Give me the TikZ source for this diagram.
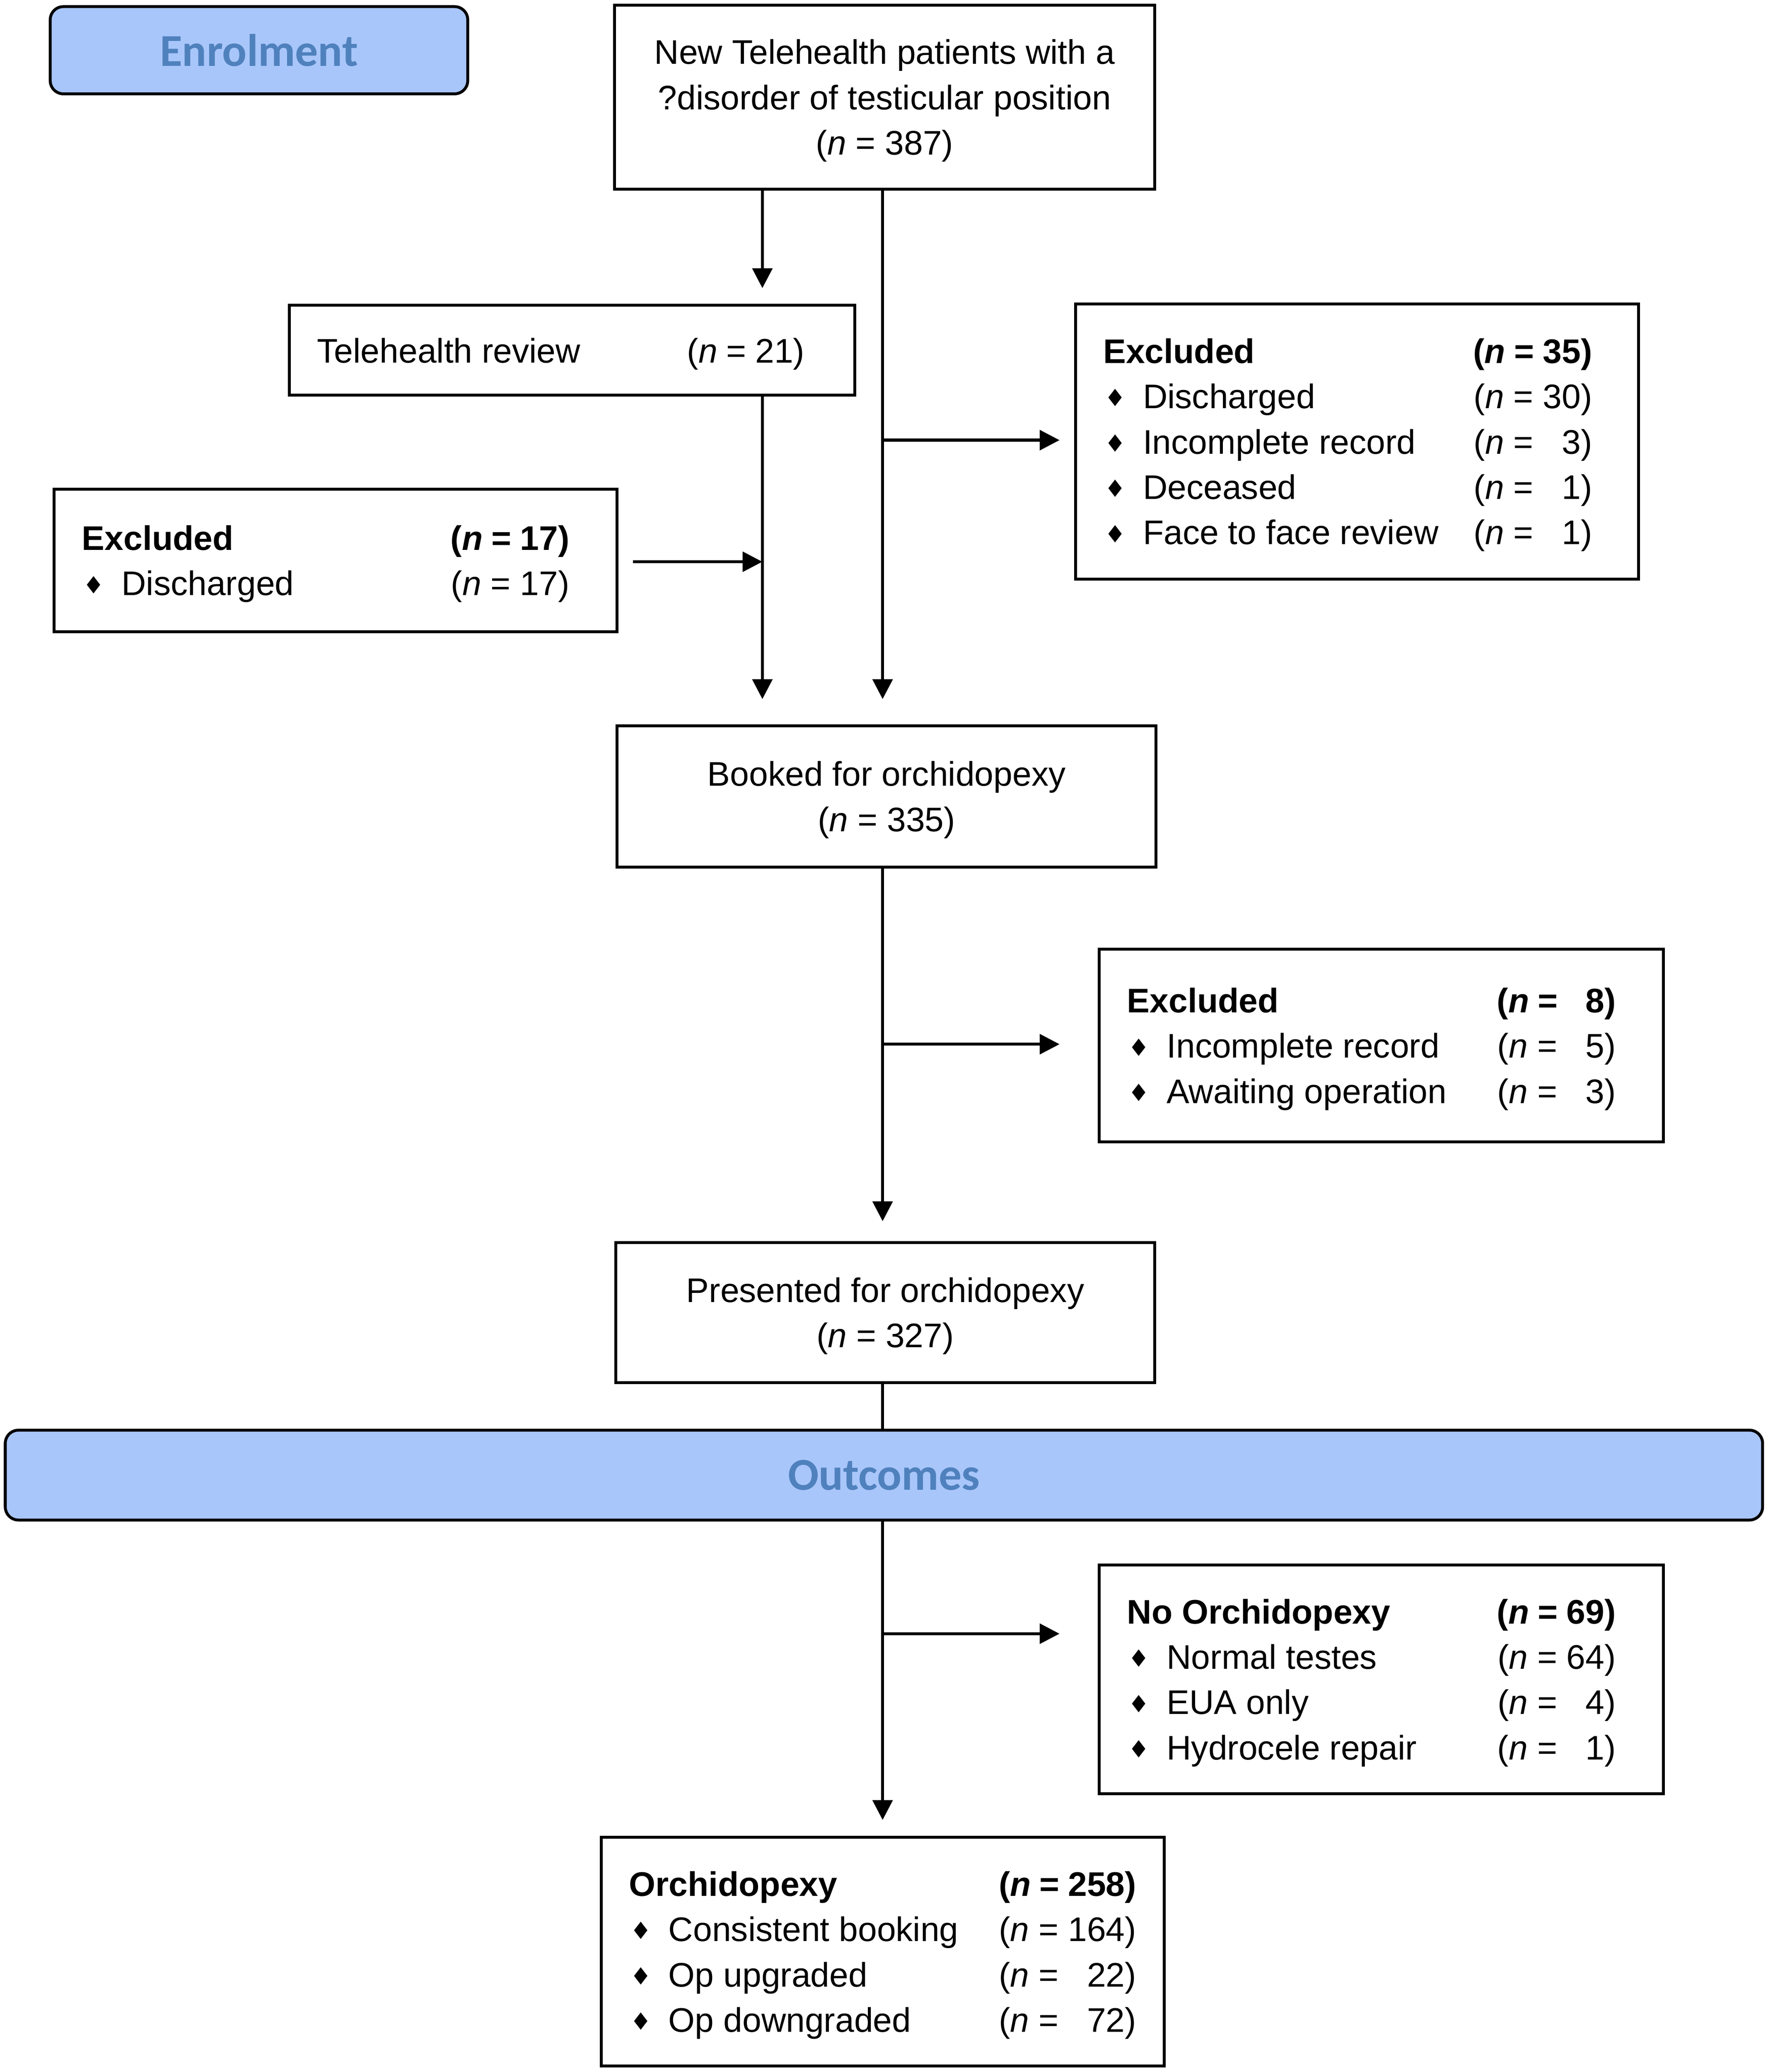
\documentclass[tikz,border=0pt]{standalone}
\usepackage{fontspec}
\setmainfont{Liberation Sans}
\newfontfamily\headfont{Carlito}
\newfontfamily\diafont{DejaVu Sans}
\usepackage{array}
\usetikzlibrary{arrows.meta,backgrounds}
\definecolor{hdrfill}{HTML}{A9C6FA}
\definecolor{hdrtext}{HTML}{4F81BD}
\newcommand{\nn}[1]{(\textit{n} = #1)}
\newcommand{\itm}[1]{\makebox[30pt][l]{\hspace{1pt}\raisebox{1.5pt}{\diafont\fontsize{18}{18}\selectfont ♦}}#1}
\newcommand{\bnn}[1]{\textbf{(\textit{n} = #1)}}
\newcommand{\dn}[1]{\raisebox{-2.5pt}[\height][\depth]{#1}}
\begin{document}
\begin{tikzpicture}[x=1pt,y=-1pt,
  txt/.style={font=\fontsize{25.8}{34.3}\selectfont},
  box/.style={draw, line width=2.2pt, fill=white, inner sep=0pt, align=center, txt},
  lbox/.style={draw, line width=2.2pt, fill=white, inner xsep=21pt, inner ysep=0pt, txt},
  hdr/.style={draw, line width=2.2pt, rounded corners=10pt, fill=hdrfill, text=hdrtext, inner sep=0pt,
    font=\headfont\bfseries\fontsize{34.5}{40}\selectfont},
  conn/.style={line width=2.3pt},
  arr/.style={conn, -{Triangle[length=15pt,width=15pt]}}]
\useasboundingbox (0,0) rectangle (1338,1567.6);

% headers
\node[hdr, minimum width=316pt, minimum height=66pt] (enrol) at (196,38) {Enrolment};
\node[hdr, minimum width=1330pt, minimum height=68pt] (outc) at (669,1116) {Outcomes};

% main boxes
\node[box, minimum width=409pt, minimum height=139pt] (top) at (669.5,73.5)
  {\dn{\begin{tabular}{@{}c@{}}New Telehealth patients with a\\?disorder of testicular position\\(\textit{n} = 387)\end{tabular}}};
\node[lbox, minimum width=428pt, minimum height=68pt] (tele) at (433,265)
  {\dn{\begin{tabular}{@{}p{280pt}@{}>{\raggedleft\arraybackslash}p{89pt}@{\hspace{17pt}}}
   Telehealth review & \nn{21}\end{tabular}}};
\node[lbox, minimum width=426pt, minimum height=208pt] (ex35) at (1027,334)
  {\dn{\begin{tabular}{@{}p{280pt}@{}>{\raggedleft\arraybackslash}p{90pt}@{\hspace{14pt}}}
   \textbf{Excluded} & \bnn{35}\\
   \itm{Discharged} & \nn{30}\\
   \itm{Incomplete record} & \nn{\phantom{0}3}\\
   \itm{Deceased} & \nn{\phantom{0}1}\\
   \itm{Face to face review} & \nn{\phantom{0}1}\end{tabular}}};
\node[lbox, minimum width=426pt, minimum height=108pt] (ex17) at (254,424)
  {\dn{\begin{tabular}{@{}p{279pt}@{}>{\raggedleft\arraybackslash}p{90pt}@{\hspace{15pt}}}
   \textbf{Excluded} & \bnn{17}\\
   \itm{Discharged} & \nn{17}\end{tabular}}};
\node[box, minimum width=408pt, minimum height=107pt] (booked) at (671,602.5)
  {\dn{\begin{tabular}{@{}c@{}}Booked for orchidopexy\\(\textit{n} = 335)\end{tabular}}};
\node[lbox, minimum width=427pt, minimum height=146pt] (ex8) at (1045.5,791)
  {\dn{\begin{tabular}{@{}p{280pt}@{}>{\raggedleft\arraybackslash}p{90pt}@{\hspace{15pt}}}
   \textbf{Excluded} & \bnn{\phantom{0}8}\\
   \itm{Incomplete record} & \nn{\phantom{0}5}\\
   \itm{Awaiting operation} & \nn{\phantom{0}3}\end{tabular}}};
\node[box, minimum width=408pt, minimum height=106pt] (pres) at (670,993)
  {\dn{\begin{tabular}{@{}c@{}}Presented for orchidopexy\\(\textit{n} = 327)\end{tabular}}};
\node[lbox, minimum width=427pt, minimum height=173pt] (noorch) at (1045.5,1270.5)
  {\dn{\begin{tabular}{@{}p{280pt}@{}>{\raggedleft\arraybackslash}p{90pt}@{\hspace{15pt}}}
   \textbf{No Orchidopexy} & \bnn{69}\\
   \itm{Normal testes} & \nn{64}\\
   \itm{EUA only} & \nn{\phantom{0}4}\\
   \itm{Hydrocele repair} & \nn{\phantom{0}1}\end{tabular}}};
\node[lbox, minimum width=426pt, minimum height=173pt] (orch) at (668,1476.5)
  {\dn{\begin{tabular}{@{}p{280pt}@{}>{\raggedleft\arraybackslash}p{104pt}@{}}
   \textbf{Orchidopexy} & \bnn{258}\\
   \itm{Consistent booking} & \nn{164}\\
   \itm{Op upgraded} & \nn{\phantom{0}22}\\
   \itm{Op downgraded} & \nn{\phantom{0}72}\end{tabular}}};

% connectors
\coordinate (m) at (668,0);
\coordinate (tl) at (577,0);
\coordinate (t1) at (577,218);
\coordinate (b1) at (668,333);
\coordinate (j17) at (577,425);
\coordinate (b2) at (668,790);
\coordinate (b3) at (668,1236);
\begin{scope}[on background layer]
\draw[arr] (top.south -| t1) -- (t1);
\draw[arr, shorten >=19pt] (top.south -| m) -- (booked.north -| m);
\draw[arr, shorten >=19pt] (tele.south -| tl) -- (booked.north -| tl);
\draw[arr, shorten >=11pt] (b1) -- (b1 -| ex35.west);
\draw[arr, shorten <=11pt] (ex17.east |- j17) -- (j17);
\draw[arr, shorten >=15pt] (booked.south -| m) -- (pres.north -| m);
\draw[arr, shorten >=29pt] (b2) -- (b2 -| ex8.west);
\draw[arr, shorten >=12pt] (pres.south -| m) -- (orch.north -| m);
\draw[arr, shorten >=29pt] (b3) -- (b3 -| noorch.west);
\end{scope}
\end{tikzpicture}
\end{document}
